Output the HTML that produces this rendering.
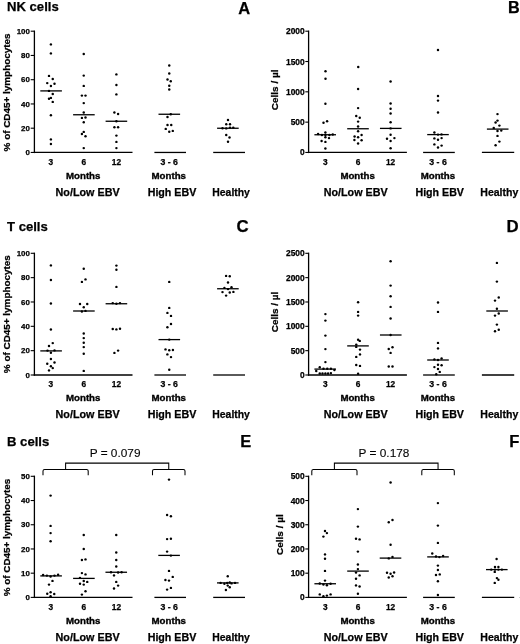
<!DOCTYPE html>
<html lang="en">
<head>
<meta charset="utf-8">
<title>Lymphocyte subsets</title>
<style>
html,body{margin:0;padding:0;background:#fff;}
body{width:520px;height:644px;overflow:hidden;font-family:"Liberation Sans", sans-serif;}
svg{display:block;filter:blur(0.3px);}
svg text{font-family:"Liberation Sans", sans-serif;fill:#000;stroke:#000;stroke-width:0.25px;}
svg text.reg{stroke-width:0.1px;}
svg text.m{stroke-width:0.35px;}
svg circle{fill:#000;}
</style>
</head>
<body>
<svg width="520" height="644" viewBox="0 0 520 644">
<rect x="0" y="0" width="520" height="644" fill="#fff"/>
<line x1="34.40" y1="30.55" x2="34.40" y2="153.10" stroke="#000" stroke-width="1.3" stroke-linecap="butt"/>
<line x1="33.75" y1="152.45" x2="132.50" y2="152.45" stroke="#000" stroke-width="1.3" stroke-linecap="butt"/>
<line x1="30.70" y1="152.45" x2="34.40" y2="152.45" stroke="#000" stroke-width="1.1" stroke-linecap="butt"/>
<text x="29.80" y="155.00" font-size="7.9" font-weight="bold" text-anchor="end">0</text>
<line x1="30.70" y1="128.20" x2="34.40" y2="128.20" stroke="#000" stroke-width="1.1" stroke-linecap="butt"/>
<text x="29.80" y="130.75" font-size="7.9" font-weight="bold" text-anchor="end">20</text>
<line x1="30.70" y1="103.95" x2="34.40" y2="103.95" stroke="#000" stroke-width="1.1" stroke-linecap="butt"/>
<text x="29.80" y="106.50" font-size="7.9" font-weight="bold" text-anchor="end">40</text>
<line x1="30.70" y1="79.70" x2="34.40" y2="79.70" stroke="#000" stroke-width="1.1" stroke-linecap="butt"/>
<text x="29.80" y="82.25" font-size="7.9" font-weight="bold" text-anchor="end">60</text>
<line x1="30.70" y1="55.45" x2="34.40" y2="55.45" stroke="#000" stroke-width="1.1" stroke-linecap="butt"/>
<text x="29.80" y="58.00" font-size="7.9" font-weight="bold" text-anchor="end">80</text>
<line x1="30.70" y1="31.20" x2="34.40" y2="31.20" stroke="#000" stroke-width="1.1" stroke-linecap="butt"/>
<text x="29.80" y="33.75" font-size="7.9" font-weight="bold" text-anchor="end">100</text>
<line x1="154.40" y1="152.45" x2="186.00" y2="152.45" stroke="#000" stroke-width="1.3" stroke-linecap="butt"/>
<line x1="213.20" y1="152.45" x2="245.00" y2="152.45" stroke="#000" stroke-width="1.3" stroke-linecap="butt"/>
<text x="50.80" y="164.80" font-size="8.3" font-weight="bold" text-anchor="middle">3</text>
<text x="83.70" y="164.80" font-size="8.3" font-weight="bold" text-anchor="middle">6</text>
<text x="116.40" y="164.80" font-size="8.3" font-weight="bold" text-anchor="middle">12</text>
<text x="160.45" y="164.80" font-size="8.3" font-weight="bold" text-anchor="start" textLength="17.5" lengthAdjust="spacingAndGlyphs">3 - 6</text>
<text x="66.00" y="178.75" font-size="9.5" font-weight="bold" text-anchor="start" textLength="34.4" lengthAdjust="spacingAndGlyphs" class="m">Months</text>
<text x="151.55" y="178.75" font-size="9.5" font-weight="bold" text-anchor="start" textLength="34.4" lengthAdjust="spacingAndGlyphs" class="m">Months</text>
<text x="55.60" y="195.90" font-size="10.7" font-weight="bold" text-anchor="start" textLength="64.0" lengthAdjust="spacingAndGlyphs">No/Low EBV</text>
<text x="147.70" y="195.90" font-size="10.7" font-weight="bold" text-anchor="start" textLength="48.6" lengthAdjust="spacingAndGlyphs">High EBV</text>
<text x="212.30" y="195.90" font-size="10.7" font-weight="bold" text-anchor="start" textLength="37.6" lengthAdjust="spacingAndGlyphs">Healthy</text>
<text transform="translate(9.80,151.42) rotate(-90)" font-size="9.8" font-weight="bold" textLength="118.0" lengthAdjust="spacingAndGlyphs">% of CD45+ lymphocytes</text>
<circle cx="50.90" cy="44.40" r="1.22"/>
<circle cx="50.90" cy="53.40" r="1.22"/>
<circle cx="49.00" cy="75.90" r="1.22"/>
<circle cx="52.75" cy="79.00" r="1.22"/>
<circle cx="47.25" cy="83.10" r="1.22"/>
<circle cx="54.50" cy="83.75" r="1.22"/>
<circle cx="50.90" cy="86.00" r="1.22"/>
<circle cx="49.00" cy="90.90" r="1.22"/>
<circle cx="52.75" cy="94.00" r="1.22"/>
<circle cx="49.00" cy="98.75" r="1.22"/>
<circle cx="50.90" cy="97.90" r="1.22"/>
<circle cx="52.75" cy="101.90" r="1.22"/>
<circle cx="50.90" cy="115.25" r="1.22"/>
<circle cx="50.90" cy="139.40" r="1.22"/>
<circle cx="50.90" cy="144.00" r="1.22"/>
<line x1="40.30" y1="90.90" x2="61.90" y2="90.90" stroke="#000" stroke-width="1.3" stroke-linecap="butt"/>
<circle cx="83.75" cy="54.00" r="1.22"/>
<circle cx="83.75" cy="75.60" r="1.22"/>
<circle cx="83.75" cy="85.90" r="1.22"/>
<circle cx="81.90" cy="95.60" r="1.22"/>
<circle cx="85.50" cy="95.60" r="1.22"/>
<circle cx="83.75" cy="103.10" r="1.22"/>
<circle cx="83.75" cy="112.50" r="1.22"/>
<circle cx="81.90" cy="117.90" r="1.22"/>
<circle cx="85.50" cy="117.50" r="1.22"/>
<circle cx="83.75" cy="122.25" r="1.22"/>
<circle cx="83.75" cy="131.90" r="1.22"/>
<circle cx="81.90" cy="134.00" r="1.22"/>
<circle cx="85.50" cy="136.25" r="1.22"/>
<circle cx="83.75" cy="148.10" r="1.22"/>
<line x1="73.10" y1="114.75" x2="94.70" y2="114.75" stroke="#000" stroke-width="1.3" stroke-linecap="butt"/>
<circle cx="116.40" cy="74.40" r="1.22"/>
<circle cx="116.40" cy="85.00" r="1.22"/>
<circle cx="116.40" cy="94.40" r="1.22"/>
<circle cx="114.40" cy="112.50" r="1.22"/>
<circle cx="118.10" cy="114.00" r="1.22"/>
<circle cx="116.40" cy="121.25" r="1.22"/>
<circle cx="114.40" cy="127.25" r="1.22"/>
<circle cx="118.10" cy="127.25" r="1.22"/>
<circle cx="116.40" cy="135.60" r="1.22"/>
<circle cx="116.40" cy="141.90" r="1.22"/>
<circle cx="116.40" cy="148.10" r="1.22"/>
<line x1="105.60" y1="121.25" x2="127.20" y2="121.25" stroke="#000" stroke-width="1.3" stroke-linecap="butt"/>
<circle cx="169.25" cy="65.50" r="1.22"/>
<circle cx="169.25" cy="73.50" r="1.22"/>
<circle cx="167.50" cy="79.50" r="1.22"/>
<circle cx="170.75" cy="81.25" r="1.22"/>
<circle cx="169.25" cy="85.75" r="1.22"/>
<circle cx="169.25" cy="89.50" r="1.22"/>
<circle cx="170.75" cy="114.25" r="1.22"/>
<circle cx="167.50" cy="117.00" r="1.22"/>
<circle cx="167.50" cy="125.00" r="1.22"/>
<circle cx="171.25" cy="125.00" r="1.22"/>
<circle cx="165.75" cy="128.90" r="1.22"/>
<circle cx="169.25" cy="131.80" r="1.22"/>
<circle cx="172.80" cy="130.90" r="1.22"/>
<line x1="158.50" y1="114.25" x2="180.10" y2="114.25" stroke="#000" stroke-width="1.3" stroke-linecap="butt"/>
<circle cx="228.00" cy="120.00" r="1.22"/>
<circle cx="226.25" cy="124.25" r="1.22"/>
<circle cx="230.00" cy="124.25" r="1.22"/>
<circle cx="222.50" cy="128.25" r="1.22"/>
<circle cx="226.25" cy="128.40" r="1.22"/>
<circle cx="230.00" cy="127.60" r="1.22"/>
<circle cx="233.25" cy="127.60" r="1.22"/>
<circle cx="226.25" cy="135.00" r="1.22"/>
<circle cx="229.50" cy="137.50" r="1.22"/>
<circle cx="228.00" cy="141.75" r="1.22"/>
<line x1="217.10" y1="128.25" x2="238.70" y2="128.25" stroke="#000" stroke-width="1.3" stroke-linecap="butt"/>
<line x1="308.60" y1="30.55" x2="308.60" y2="153.10" stroke="#000" stroke-width="1.3" stroke-linecap="butt"/>
<line x1="307.95" y1="152.45" x2="406.90" y2="152.45" stroke="#000" stroke-width="1.3" stroke-linecap="butt"/>
<line x1="305.30" y1="152.45" x2="308.60" y2="152.45" stroke="#000" stroke-width="1.1" stroke-linecap="butt"/>
<text x="304.70" y="155.45" font-size="8.4" font-weight="bold" text-anchor="end">0</text>
<line x1="305.30" y1="122.14" x2="308.60" y2="122.14" stroke="#000" stroke-width="1.1" stroke-linecap="butt"/>
<text x="304.70" y="125.14" font-size="8.4" font-weight="bold" text-anchor="end">500</text>
<line x1="305.30" y1="91.82" x2="308.60" y2="91.82" stroke="#000" stroke-width="1.1" stroke-linecap="butt"/>
<text x="304.70" y="94.82" font-size="8.4" font-weight="bold" text-anchor="end">1000</text>
<line x1="305.30" y1="61.51" x2="308.60" y2="61.51" stroke="#000" stroke-width="1.1" stroke-linecap="butt"/>
<text x="304.70" y="64.51" font-size="8.4" font-weight="bold" text-anchor="end">1500</text>
<line x1="305.30" y1="31.20" x2="308.60" y2="31.20" stroke="#000" stroke-width="1.1" stroke-linecap="butt"/>
<text x="304.70" y="34.20" font-size="8.4" font-weight="bold" text-anchor="end">2000</text>
<line x1="423.10" y1="152.45" x2="454.80" y2="152.45" stroke="#000" stroke-width="1.3" stroke-linecap="butt"/>
<line x1="481.90" y1="152.45" x2="514.20" y2="152.45" stroke="#000" stroke-width="1.3" stroke-linecap="butt"/>
<text x="325.40" y="164.80" font-size="8.3" font-weight="bold" text-anchor="middle">3</text>
<text x="358.10" y="164.80" font-size="8.3" font-weight="bold" text-anchor="middle">6</text>
<text x="390.60" y="164.80" font-size="8.3" font-weight="bold" text-anchor="middle">12</text>
<text x="429.25" y="164.80" font-size="8.3" font-weight="bold" text-anchor="start" textLength="17.5" lengthAdjust="spacingAndGlyphs">3 - 6</text>
<text x="340.40" y="178.75" font-size="9.5" font-weight="bold" text-anchor="start" textLength="34.4" lengthAdjust="spacingAndGlyphs" class="m">Months</text>
<text x="420.70" y="178.75" font-size="9.5" font-weight="bold" text-anchor="start" textLength="34.4" lengthAdjust="spacingAndGlyphs" class="m">Months</text>
<text x="323.75" y="195.90" font-size="10.7" font-weight="bold" text-anchor="start" textLength="63.8" lengthAdjust="spacingAndGlyphs">No/Low EBV</text>
<text x="415.50" y="195.90" font-size="10.7" font-weight="bold" text-anchor="start" textLength="48.4" lengthAdjust="spacingAndGlyphs">High EBV</text>
<text x="480.30" y="195.90" font-size="10.7" font-weight="bold" text-anchor="start" textLength="38.0" lengthAdjust="spacingAndGlyphs">Healthy</text>
<text transform="translate(278.30,110.17) rotate(-90)" font-size="9.5" font-weight="bold" textLength="40.6" lengthAdjust="spacingAndGlyphs">Cells / µl</text>
<circle cx="325.50" cy="71.25" r="1.22"/>
<circle cx="325.50" cy="78.75" r="1.22"/>
<circle cx="325.40" cy="103.75" r="1.22"/>
<circle cx="323.50" cy="122.75" r="1.22"/>
<circle cx="327.10" cy="121.25" r="1.22"/>
<circle cx="325.40" cy="132.50" r="1.22"/>
<circle cx="318.10" cy="134.00" r="1.22"/>
<circle cx="321.90" cy="135.00" r="1.22"/>
<circle cx="325.40" cy="135.00" r="1.22"/>
<circle cx="329.40" cy="135.00" r="1.22"/>
<circle cx="332.75" cy="134.50" r="1.22"/>
<circle cx="325.40" cy="137.25" r="1.22"/>
<circle cx="329.00" cy="138.10" r="1.22"/>
<circle cx="321.60" cy="141.00" r="1.22"/>
<circle cx="325.40" cy="141.90" r="1.22"/>
<circle cx="325.40" cy="148.50" r="1.22"/>
<line x1="314.40" y1="134.75" x2="336.00" y2="134.75" stroke="#000" stroke-width="1.3" stroke-linecap="butt"/>
<circle cx="358.25" cy="67.00" r="1.22"/>
<circle cx="358.10" cy="89.00" r="1.22"/>
<circle cx="358.10" cy="108.10" r="1.22"/>
<circle cx="356.25" cy="116.00" r="1.22"/>
<circle cx="359.75" cy="117.75" r="1.22"/>
<circle cx="358.10" cy="121.60" r="1.22"/>
<circle cx="358.10" cy="126.50" r="1.22"/>
<circle cx="358.10" cy="131.25" r="1.22"/>
<circle cx="354.60" cy="136.50" r="1.22"/>
<circle cx="361.60" cy="135.00" r="1.22"/>
<circle cx="358.10" cy="137.25" r="1.22"/>
<circle cx="354.40" cy="140.00" r="1.22"/>
<circle cx="361.60" cy="140.25" r="1.22"/>
<circle cx="358.10" cy="143.50" r="1.22"/>
<line x1="347.20" y1="128.75" x2="368.80" y2="128.75" stroke="#000" stroke-width="1.3" stroke-linecap="butt"/>
<circle cx="390.60" cy="81.50" r="1.22"/>
<circle cx="390.60" cy="103.50" r="1.22"/>
<circle cx="390.60" cy="108.75" r="1.22"/>
<circle cx="390.60" cy="113.50" r="1.22"/>
<circle cx="390.60" cy="122.25" r="1.22"/>
<circle cx="390.60" cy="128.40" r="1.22"/>
<circle cx="390.60" cy="134.75" r="1.22"/>
<circle cx="387.00" cy="138.75" r="1.22"/>
<circle cx="394.40" cy="138.10" r="1.22"/>
<circle cx="390.60" cy="141.00" r="1.22"/>
<circle cx="390.60" cy="148.25" r="1.22"/>
<line x1="379.95" y1="128.40" x2="401.55" y2="128.40" stroke="#000" stroke-width="1.3" stroke-linecap="butt"/>
<circle cx="438.00" cy="50.00" r="1.22"/>
<circle cx="438.00" cy="96.00" r="1.22"/>
<circle cx="438.00" cy="100.60" r="1.22"/>
<circle cx="438.00" cy="112.50" r="1.22"/>
<circle cx="434.40" cy="132.50" r="1.22"/>
<circle cx="438.00" cy="134.60" r="1.22"/>
<circle cx="441.50" cy="134.40" r="1.22"/>
<circle cx="434.40" cy="138.40" r="1.22"/>
<circle cx="438.00" cy="139.75" r="1.22"/>
<circle cx="441.60" cy="138.10" r="1.22"/>
<circle cx="434.40" cy="144.40" r="1.22"/>
<circle cx="441.60" cy="145.60" r="1.22"/>
<circle cx="438.00" cy="147.50" r="1.22"/>
<line x1="427.20" y1="134.60" x2="448.80" y2="134.60" stroke="#000" stroke-width="1.3" stroke-linecap="butt"/>
<circle cx="497.50" cy="114.10" r="1.22"/>
<circle cx="497.50" cy="120.60" r="1.22"/>
<circle cx="495.60" cy="122.50" r="1.22"/>
<circle cx="499.40" cy="125.60" r="1.22"/>
<circle cx="493.75" cy="127.90" r="1.22"/>
<circle cx="497.50" cy="131.00" r="1.22"/>
<circle cx="501.25" cy="130.60" r="1.22"/>
<circle cx="497.50" cy="135.90" r="1.22"/>
<circle cx="499.40" cy="141.60" r="1.22"/>
<circle cx="495.60" cy="145.25" r="1.22"/>
<line x1="486.90" y1="129.10" x2="508.50" y2="129.10" stroke="#000" stroke-width="1.3" stroke-linecap="butt"/>
<line x1="34.40" y1="252.65" x2="34.40" y2="375.65" stroke="#000" stroke-width="1.3" stroke-linecap="butt"/>
<line x1="33.75" y1="375.00" x2="132.50" y2="375.00" stroke="#000" stroke-width="1.3" stroke-linecap="butt"/>
<line x1="30.70" y1="375.00" x2="34.40" y2="375.00" stroke="#000" stroke-width="1.1" stroke-linecap="butt"/>
<text x="29.80" y="377.55" font-size="7.9" font-weight="bold" text-anchor="end">0</text>
<line x1="30.70" y1="350.66" x2="34.40" y2="350.66" stroke="#000" stroke-width="1.1" stroke-linecap="butt"/>
<text x="29.80" y="353.21" font-size="7.9" font-weight="bold" text-anchor="end">20</text>
<line x1="30.70" y1="326.32" x2="34.40" y2="326.32" stroke="#000" stroke-width="1.1" stroke-linecap="butt"/>
<text x="29.80" y="328.87" font-size="7.9" font-weight="bold" text-anchor="end">40</text>
<line x1="30.70" y1="301.98" x2="34.40" y2="301.98" stroke="#000" stroke-width="1.1" stroke-linecap="butt"/>
<text x="29.80" y="304.53" font-size="7.9" font-weight="bold" text-anchor="end">60</text>
<line x1="30.70" y1="277.64" x2="34.40" y2="277.64" stroke="#000" stroke-width="1.1" stroke-linecap="butt"/>
<text x="29.80" y="280.19" font-size="7.9" font-weight="bold" text-anchor="end">80</text>
<line x1="30.70" y1="253.30" x2="34.40" y2="253.30" stroke="#000" stroke-width="1.1" stroke-linecap="butt"/>
<text x="29.80" y="255.85" font-size="7.9" font-weight="bold" text-anchor="end">100</text>
<line x1="154.40" y1="375.00" x2="186.00" y2="375.00" stroke="#000" stroke-width="1.3" stroke-linecap="butt"/>
<line x1="213.20" y1="375.00" x2="245.00" y2="375.00" stroke="#000" stroke-width="1.3" stroke-linecap="butt"/>
<text x="50.80" y="387.35" font-size="8.3" font-weight="bold" text-anchor="middle">3</text>
<text x="83.70" y="387.35" font-size="8.3" font-weight="bold" text-anchor="middle">6</text>
<text x="116.40" y="387.35" font-size="8.3" font-weight="bold" text-anchor="middle">12</text>
<text x="160.45" y="387.35" font-size="8.3" font-weight="bold" text-anchor="start" textLength="17.5" lengthAdjust="spacingAndGlyphs">3 - 6</text>
<text x="66.00" y="401.10" font-size="9.5" font-weight="bold" text-anchor="start" textLength="34.4" lengthAdjust="spacingAndGlyphs" class="m">Months</text>
<text x="151.55" y="401.10" font-size="9.5" font-weight="bold" text-anchor="start" textLength="34.4" lengthAdjust="spacingAndGlyphs" class="m">Months</text>
<text x="55.60" y="417.65" font-size="10.7" font-weight="bold" text-anchor="start" textLength="64.0" lengthAdjust="spacingAndGlyphs">No/Low EBV</text>
<text x="147.70" y="417.65" font-size="10.7" font-weight="bold" text-anchor="start" textLength="48.6" lengthAdjust="spacingAndGlyphs">High EBV</text>
<text x="212.30" y="417.65" font-size="10.7" font-weight="bold" text-anchor="start" textLength="37.6" lengthAdjust="spacingAndGlyphs">Healthy</text>
<text transform="translate(9.80,373.15) rotate(-90)" font-size="9.8" font-weight="bold" textLength="118.0" lengthAdjust="spacingAndGlyphs">% of CD45+ lymphocytes</text>
<circle cx="50.90" cy="265.40" r="1.22"/>
<circle cx="50.90" cy="280.00" r="1.22"/>
<circle cx="50.90" cy="303.50" r="1.22"/>
<circle cx="50.90" cy="329.50" r="1.22"/>
<circle cx="52.75" cy="343.10" r="1.22"/>
<circle cx="49.00" cy="346.00" r="1.22"/>
<circle cx="47.50" cy="350.60" r="1.22"/>
<circle cx="54.50" cy="350.40" r="1.22"/>
<circle cx="50.90" cy="352.75" r="1.22"/>
<circle cx="50.90" cy="359.00" r="1.22"/>
<circle cx="47.25" cy="363.75" r="1.22"/>
<circle cx="54.50" cy="362.50" r="1.22"/>
<circle cx="50.90" cy="366.25" r="1.22"/>
<circle cx="52.75" cy="368.10" r="1.22"/>
<circle cx="49.00" cy="370.40" r="1.22"/>
<line x1="40.30" y1="350.90" x2="61.90" y2="350.90" stroke="#000" stroke-width="1.3" stroke-linecap="butt"/>
<circle cx="83.75" cy="268.75" r="1.22"/>
<circle cx="85.50" cy="279.40" r="1.22"/>
<circle cx="81.90" cy="281.90" r="1.22"/>
<circle cx="80.00" cy="304.00" r="1.22"/>
<circle cx="87.25" cy="304.00" r="1.22"/>
<circle cx="83.75" cy="307.25" r="1.22"/>
<circle cx="81.90" cy="311.50" r="1.22"/>
<circle cx="85.50" cy="310.90" r="1.22"/>
<circle cx="83.75" cy="333.50" r="1.22"/>
<circle cx="83.75" cy="338.10" r="1.22"/>
<circle cx="83.75" cy="342.75" r="1.22"/>
<circle cx="83.75" cy="347.10" r="1.22"/>
<circle cx="83.75" cy="353.75" r="1.22"/>
<circle cx="83.75" cy="370.90" r="1.22"/>
<line x1="73.10" y1="311.00" x2="94.70" y2="311.00" stroke="#000" stroke-width="1.3" stroke-linecap="butt"/>
<circle cx="116.40" cy="265.60" r="1.22"/>
<circle cx="116.40" cy="269.75" r="1.22"/>
<circle cx="116.40" cy="286.90" r="1.22"/>
<circle cx="112.75" cy="303.10" r="1.22"/>
<circle cx="116.40" cy="303.75" r="1.22"/>
<circle cx="120.00" cy="303.10" r="1.22"/>
<circle cx="112.75" cy="329.00" r="1.22"/>
<circle cx="116.40" cy="329.40" r="1.22"/>
<circle cx="120.00" cy="328.75" r="1.22"/>
<circle cx="114.40" cy="352.90" r="1.22"/>
<circle cx="118.10" cy="350.60" r="1.22"/>
<line x1="105.60" y1="303.75" x2="127.20" y2="303.75" stroke="#000" stroke-width="1.3" stroke-linecap="butt"/>
<circle cx="169.25" cy="281.90" r="1.22"/>
<circle cx="169.25" cy="307.90" r="1.22"/>
<circle cx="167.40" cy="312.90" r="1.22"/>
<circle cx="171.00" cy="315.90" r="1.22"/>
<circle cx="171.00" cy="324.00" r="1.22"/>
<circle cx="167.40" cy="327.25" r="1.22"/>
<circle cx="169.25" cy="339.60" r="1.22"/>
<circle cx="165.50" cy="349.40" r="1.22"/>
<circle cx="169.25" cy="350.25" r="1.22"/>
<circle cx="172.90" cy="350.00" r="1.22"/>
<circle cx="167.40" cy="354.40" r="1.22"/>
<circle cx="171.00" cy="357.10" r="1.22"/>
<circle cx="169.25" cy="369.75" r="1.22"/>
<line x1="158.50" y1="339.60" x2="180.10" y2="339.60" stroke="#000" stroke-width="1.3" stroke-linecap="butt"/>
<circle cx="226.10" cy="275.90" r="1.22"/>
<circle cx="229.75" cy="276.25" r="1.22"/>
<circle cx="228.00" cy="282.50" r="1.22"/>
<circle cx="224.40" cy="287.90" r="1.22"/>
<circle cx="228.00" cy="289.10" r="1.22"/>
<circle cx="231.50" cy="287.25" r="1.22"/>
<circle cx="222.50" cy="292.10" r="1.22"/>
<circle cx="229.75" cy="292.50" r="1.22"/>
<circle cx="233.40" cy="291.90" r="1.22"/>
<circle cx="226.10" cy="295.60" r="1.22"/>
<line x1="217.10" y1="288.75" x2="238.70" y2="288.75" stroke="#000" stroke-width="1.3" stroke-linecap="butt"/>
<line x1="308.60" y1="252.65" x2="308.60" y2="375.65" stroke="#000" stroke-width="1.3" stroke-linecap="butt"/>
<line x1="307.95" y1="375.00" x2="406.90" y2="375.00" stroke="#000" stroke-width="1.3" stroke-linecap="butt"/>
<line x1="305.30" y1="375.00" x2="308.60" y2="375.00" stroke="#000" stroke-width="1.1" stroke-linecap="butt"/>
<text x="304.70" y="378.00" font-size="8.4" font-weight="bold" text-anchor="end">0</text>
<line x1="305.30" y1="350.66" x2="308.60" y2="350.66" stroke="#000" stroke-width="1.1" stroke-linecap="butt"/>
<text x="304.70" y="353.66" font-size="8.4" font-weight="bold" text-anchor="end">500</text>
<line x1="305.30" y1="326.32" x2="308.60" y2="326.32" stroke="#000" stroke-width="1.1" stroke-linecap="butt"/>
<text x="304.70" y="329.32" font-size="8.4" font-weight="bold" text-anchor="end">1000</text>
<line x1="305.30" y1="301.98" x2="308.60" y2="301.98" stroke="#000" stroke-width="1.1" stroke-linecap="butt"/>
<text x="304.70" y="304.98" font-size="8.4" font-weight="bold" text-anchor="end">1500</text>
<line x1="305.30" y1="277.64" x2="308.60" y2="277.64" stroke="#000" stroke-width="1.1" stroke-linecap="butt"/>
<text x="304.70" y="280.64" font-size="8.4" font-weight="bold" text-anchor="end">2000</text>
<line x1="305.30" y1="253.30" x2="308.60" y2="253.30" stroke="#000" stroke-width="1.1" stroke-linecap="butt"/>
<text x="304.70" y="256.30" font-size="8.4" font-weight="bold" text-anchor="end">2500</text>
<line x1="423.10" y1="375.00" x2="454.80" y2="375.00" stroke="#000" stroke-width="1.3" stroke-linecap="butt"/>
<line x1="481.90" y1="375.00" x2="514.20" y2="375.00" stroke="#000" stroke-width="1.3" stroke-linecap="butt"/>
<text x="325.40" y="387.35" font-size="8.3" font-weight="bold" text-anchor="middle">3</text>
<text x="358.10" y="387.35" font-size="8.3" font-weight="bold" text-anchor="middle">6</text>
<text x="390.60" y="387.35" font-size="8.3" font-weight="bold" text-anchor="middle">12</text>
<text x="429.25" y="387.35" font-size="8.3" font-weight="bold" text-anchor="start" textLength="17.5" lengthAdjust="spacingAndGlyphs">3 - 6</text>
<text x="340.40" y="401.10" font-size="9.5" font-weight="bold" text-anchor="start" textLength="34.4" lengthAdjust="spacingAndGlyphs" class="m">Months</text>
<text x="420.70" y="401.10" font-size="9.5" font-weight="bold" text-anchor="start" textLength="34.4" lengthAdjust="spacingAndGlyphs" class="m">Months</text>
<text x="323.75" y="417.65" font-size="10.7" font-weight="bold" text-anchor="start" textLength="63.8" lengthAdjust="spacingAndGlyphs">No/Low EBV</text>
<text x="415.50" y="417.65" font-size="10.7" font-weight="bold" text-anchor="start" textLength="48.4" lengthAdjust="spacingAndGlyphs">High EBV</text>
<text x="480.30" y="417.65" font-size="10.7" font-weight="bold" text-anchor="start" textLength="38.0" lengthAdjust="spacingAndGlyphs">Healthy</text>
<text transform="translate(278.30,332.30) rotate(-90)" font-size="9.5" font-weight="bold" textLength="40.6" lengthAdjust="spacingAndGlyphs">Cells / µl</text>
<circle cx="325.40" cy="314.10" r="1.22"/>
<circle cx="325.40" cy="320.60" r="1.22"/>
<circle cx="325.40" cy="335.60" r="1.22"/>
<circle cx="325.40" cy="349.10" r="1.22"/>
<circle cx="325.40" cy="362.10" r="1.22"/>
<circle cx="319.75" cy="367.25" r="1.22"/>
<circle cx="323.50" cy="368.75" r="1.22"/>
<circle cx="327.25" cy="368.75" r="1.22"/>
<circle cx="330.90" cy="368.75" r="1.22"/>
<circle cx="334.40" cy="370.00" r="1.22"/>
<circle cx="316.25" cy="371.00" r="1.22"/>
<circle cx="319.75" cy="373.50" r="1.22"/>
<circle cx="322.50" cy="373.50" r="1.22"/>
<circle cx="325.40" cy="373.50" r="1.22"/>
<circle cx="328.10" cy="373.50" r="1.22"/>
<circle cx="330.90" cy="373.10" r="1.22"/>
<line x1="314.40" y1="369.10" x2="336.00" y2="369.10" stroke="#000" stroke-width="1.3" stroke-linecap="butt"/>
<circle cx="358.10" cy="302.25" r="1.22"/>
<circle cx="358.10" cy="311.90" r="1.22"/>
<circle cx="358.10" cy="315.60" r="1.22"/>
<circle cx="358.10" cy="339.75" r="1.22"/>
<circle cx="359.75" cy="340.90" r="1.22"/>
<circle cx="356.25" cy="344.60" r="1.22"/>
<circle cx="356.25" cy="346.90" r="1.22"/>
<circle cx="360.00" cy="349.60" r="1.22"/>
<circle cx="360.00" cy="354.40" r="1.22"/>
<circle cx="356.25" cy="356.90" r="1.22"/>
<circle cx="356.25" cy="365.00" r="1.22"/>
<circle cx="360.00" cy="365.90" r="1.22"/>
<circle cx="358.10" cy="373.75" r="1.22"/>
<line x1="347.20" y1="345.90" x2="368.80" y2="345.90" stroke="#000" stroke-width="1.3" stroke-linecap="butt"/>
<circle cx="390.60" cy="261.25" r="1.22"/>
<circle cx="390.60" cy="285.60" r="1.22"/>
<circle cx="390.60" cy="296.25" r="1.22"/>
<circle cx="390.60" cy="306.90" r="1.22"/>
<circle cx="390.60" cy="318.50" r="1.22"/>
<circle cx="390.60" cy="335.00" r="1.22"/>
<circle cx="388.75" cy="349.00" r="1.22"/>
<circle cx="392.50" cy="347.25" r="1.22"/>
<circle cx="390.60" cy="352.90" r="1.22"/>
<circle cx="388.75" cy="366.50" r="1.22"/>
<circle cx="392.50" cy="366.50" r="1.22"/>
<line x1="379.95" y1="335.00" x2="401.55" y2="335.00" stroke="#000" stroke-width="1.3" stroke-linecap="butt"/>
<circle cx="438.00" cy="302.50" r="1.22"/>
<circle cx="438.00" cy="311.90" r="1.22"/>
<circle cx="438.00" cy="342.90" r="1.22"/>
<circle cx="438.00" cy="348.40" r="1.22"/>
<circle cx="434.40" cy="359.40" r="1.22"/>
<circle cx="438.00" cy="360.00" r="1.22"/>
<circle cx="441.60" cy="358.50" r="1.22"/>
<circle cx="438.00" cy="364.75" r="1.22"/>
<circle cx="441.60" cy="365.25" r="1.22"/>
<circle cx="434.40" cy="367.10" r="1.22"/>
<circle cx="438.00" cy="369.00" r="1.22"/>
<circle cx="439.75" cy="371.90" r="1.22"/>
<circle cx="436.25" cy="374.20" r="1.22"/>
<line x1="427.20" y1="360.00" x2="448.80" y2="360.00" stroke="#000" stroke-width="1.3" stroke-linecap="butt"/>
<circle cx="496.90" cy="262.90" r="1.22"/>
<circle cx="496.90" cy="281.60" r="1.22"/>
<circle cx="498.75" cy="297.50" r="1.22"/>
<circle cx="495.00" cy="300.60" r="1.22"/>
<circle cx="496.90" cy="308.75" r="1.22"/>
<circle cx="498.75" cy="313.50" r="1.22"/>
<circle cx="495.00" cy="315.60" r="1.22"/>
<circle cx="496.90" cy="324.60" r="1.22"/>
<circle cx="498.75" cy="329.70" r="1.22"/>
<circle cx="495.00" cy="331.25" r="1.22"/>
<line x1="486.30" y1="311.00" x2="507.90" y2="311.00" stroke="#000" stroke-width="1.3" stroke-linecap="butt"/>
<line x1="34.40" y1="475.65" x2="34.40" y2="598.05" stroke="#000" stroke-width="1.3" stroke-linecap="butt"/>
<line x1="33.75" y1="597.40" x2="132.50" y2="597.40" stroke="#000" stroke-width="1.3" stroke-linecap="butt"/>
<line x1="30.70" y1="597.40" x2="34.40" y2="597.40" stroke="#000" stroke-width="1.1" stroke-linecap="butt"/>
<text x="29.80" y="599.95" font-size="7.9" font-weight="bold" text-anchor="end">0</text>
<line x1="30.70" y1="573.18" x2="34.40" y2="573.18" stroke="#000" stroke-width="1.1" stroke-linecap="butt"/>
<text x="29.80" y="575.73" font-size="7.9" font-weight="bold" text-anchor="end">10</text>
<line x1="30.70" y1="548.96" x2="34.40" y2="548.96" stroke="#000" stroke-width="1.1" stroke-linecap="butt"/>
<text x="29.80" y="551.51" font-size="7.9" font-weight="bold" text-anchor="end">20</text>
<line x1="30.70" y1="524.74" x2="34.40" y2="524.74" stroke="#000" stroke-width="1.1" stroke-linecap="butt"/>
<text x="29.80" y="527.29" font-size="7.9" font-weight="bold" text-anchor="end">30</text>
<line x1="30.70" y1="500.52" x2="34.40" y2="500.52" stroke="#000" stroke-width="1.1" stroke-linecap="butt"/>
<text x="29.80" y="503.07" font-size="7.9" font-weight="bold" text-anchor="end">40</text>
<line x1="30.70" y1="476.30" x2="34.40" y2="476.30" stroke="#000" stroke-width="1.1" stroke-linecap="butt"/>
<text x="29.80" y="478.85" font-size="7.9" font-weight="bold" text-anchor="end">50</text>
<line x1="154.40" y1="597.40" x2="186.00" y2="597.40" stroke="#000" stroke-width="1.3" stroke-linecap="butt"/>
<line x1="213.20" y1="597.40" x2="245.00" y2="597.40" stroke="#000" stroke-width="1.3" stroke-linecap="butt"/>
<text x="50.80" y="609.75" font-size="8.3" font-weight="bold" text-anchor="middle">3</text>
<text x="83.70" y="609.75" font-size="8.3" font-weight="bold" text-anchor="middle">6</text>
<text x="116.40" y="609.75" font-size="8.3" font-weight="bold" text-anchor="middle">12</text>
<text x="160.45" y="609.75" font-size="8.3" font-weight="bold" text-anchor="start" textLength="17.5" lengthAdjust="spacingAndGlyphs">3 - 6</text>
<text x="66.00" y="624.00" font-size="9.5" font-weight="bold" text-anchor="start" textLength="34.4" lengthAdjust="spacingAndGlyphs" class="m">Months</text>
<text x="151.55" y="624.00" font-size="9.5" font-weight="bold" text-anchor="start" textLength="34.4" lengthAdjust="spacingAndGlyphs" class="m">Months</text>
<text x="55.60" y="640.55" font-size="10.7" font-weight="bold" text-anchor="start" textLength="64.0" lengthAdjust="spacingAndGlyphs">No/Low EBV</text>
<text x="147.70" y="640.55" font-size="10.7" font-weight="bold" text-anchor="start" textLength="48.6" lengthAdjust="spacingAndGlyphs">High EBV</text>
<text x="212.30" y="640.55" font-size="10.7" font-weight="bold" text-anchor="start" textLength="37.6" lengthAdjust="spacingAndGlyphs">Healthy</text>
<text transform="translate(9.80,596.20) rotate(-90)" font-size="9.8" font-weight="bold" textLength="117.5" lengthAdjust="spacingAndGlyphs">% of CD45+ lymphocytes</text>
<circle cx="50.60" cy="495.60" r="1.22"/>
<circle cx="50.60" cy="525.90" r="1.22"/>
<circle cx="50.60" cy="533.10" r="1.22"/>
<circle cx="50.60" cy="541.20" r="1.22"/>
<circle cx="43.10" cy="575.00" r="1.22"/>
<circle cx="46.90" cy="575.60" r="1.22"/>
<circle cx="50.60" cy="576.50" r="1.22"/>
<circle cx="54.50" cy="575.60" r="1.22"/>
<circle cx="58.10" cy="574.75" r="1.22"/>
<circle cx="52.50" cy="580.90" r="1.22"/>
<circle cx="49.00" cy="584.60" r="1.22"/>
<circle cx="50.60" cy="592.25" r="1.22"/>
<circle cx="47.25" cy="593.75" r="1.22"/>
<circle cx="54.25" cy="594.00" r="1.22"/>
<circle cx="50.60" cy="596.30" r="1.22"/>
<line x1="40.30" y1="575.90" x2="61.90" y2="575.90" stroke="#000" stroke-width="1.3" stroke-linecap="butt"/>
<circle cx="83.75" cy="535.00" r="1.22"/>
<circle cx="83.75" cy="549.00" r="1.22"/>
<circle cx="81.90" cy="560.00" r="1.22"/>
<circle cx="85.50" cy="559.40" r="1.22"/>
<circle cx="81.90" cy="573.10" r="1.22"/>
<circle cx="85.50" cy="574.40" r="1.22"/>
<circle cx="80.00" cy="577.90" r="1.22"/>
<circle cx="83.75" cy="581.00" r="1.22"/>
<circle cx="87.25" cy="581.90" r="1.22"/>
<circle cx="80.00" cy="583.75" r="1.22"/>
<circle cx="83.75" cy="584.60" r="1.22"/>
<circle cx="85.50" cy="591.25" r="1.22"/>
<circle cx="81.90" cy="594.60" r="1.22"/>
<line x1="73.10" y1="578.40" x2="94.70" y2="578.40" stroke="#000" stroke-width="1.3" stroke-linecap="butt"/>
<circle cx="116.25" cy="535.00" r="1.22"/>
<circle cx="116.25" cy="552.50" r="1.22"/>
<circle cx="116.25" cy="560.00" r="1.22"/>
<circle cx="116.25" cy="566.50" r="1.22"/>
<circle cx="111.00" cy="572.25" r="1.22"/>
<circle cx="118.10" cy="572.50" r="1.22"/>
<circle cx="121.60" cy="572.25" r="1.22"/>
<circle cx="114.00" cy="575.40" r="1.22"/>
<circle cx="116.25" cy="581.90" r="1.22"/>
<circle cx="118.10" cy="585.60" r="1.22"/>
<circle cx="114.00" cy="588.50" r="1.22"/>
<line x1="105.45" y1="572.25" x2="127.05" y2="572.25" stroke="#000" stroke-width="1.3" stroke-linecap="butt"/>
<circle cx="169.00" cy="479.60" r="1.22"/>
<circle cx="167.10" cy="515.00" r="1.22"/>
<circle cx="170.90" cy="516.25" r="1.22"/>
<circle cx="167.10" cy="539.10" r="1.22"/>
<circle cx="170.90" cy="538.75" r="1.22"/>
<circle cx="167.10" cy="551.60" r="1.22"/>
<circle cx="170.90" cy="555.60" r="1.22"/>
<circle cx="169.00" cy="570.90" r="1.22"/>
<circle cx="172.75" cy="576.90" r="1.22"/>
<circle cx="165.40" cy="580.00" r="1.22"/>
<circle cx="169.00" cy="580.60" r="1.22"/>
<circle cx="167.10" cy="589.60" r="1.22"/>
<circle cx="170.90" cy="587.90" r="1.22"/>
<line x1="158.30" y1="555.40" x2="179.90" y2="555.40" stroke="#000" stroke-width="1.3" stroke-linecap="butt"/>
<circle cx="227.75" cy="576.25" r="1.22"/>
<circle cx="220.60" cy="582.90" r="1.22"/>
<circle cx="224.40" cy="583.75" r="1.22"/>
<circle cx="227.20" cy="583.00" r="1.22"/>
<circle cx="229.75" cy="582.50" r="1.22"/>
<circle cx="231.50" cy="583.40" r="1.22"/>
<circle cx="235.00" cy="582.90" r="1.22"/>
<circle cx="227.75" cy="585.60" r="1.22"/>
<circle cx="229.75" cy="587.25" r="1.22"/>
<circle cx="225.90" cy="590.00" r="1.22"/>
<line x1="217.00" y1="582.90" x2="238.60" y2="582.90" stroke="#000" stroke-width="1.3" stroke-linecap="butt"/>
<line x1="308.60" y1="475.65" x2="308.60" y2="598.05" stroke="#000" stroke-width="1.3" stroke-linecap="butt"/>
<line x1="307.95" y1="597.40" x2="406.90" y2="597.40" stroke="#000" stroke-width="1.3" stroke-linecap="butt"/>
<line x1="305.30" y1="597.40" x2="308.60" y2="597.40" stroke="#000" stroke-width="1.1" stroke-linecap="butt"/>
<text x="304.70" y="600.40" font-size="8.4" font-weight="bold" text-anchor="end">0</text>
<line x1="305.30" y1="573.18" x2="308.60" y2="573.18" stroke="#000" stroke-width="1.1" stroke-linecap="butt"/>
<text x="304.70" y="576.18" font-size="8.4" font-weight="bold" text-anchor="end">100</text>
<line x1="305.30" y1="548.96" x2="308.60" y2="548.96" stroke="#000" stroke-width="1.1" stroke-linecap="butt"/>
<text x="304.70" y="551.96" font-size="8.4" font-weight="bold" text-anchor="end">200</text>
<line x1="305.30" y1="524.74" x2="308.60" y2="524.74" stroke="#000" stroke-width="1.1" stroke-linecap="butt"/>
<text x="304.70" y="527.74" font-size="8.4" font-weight="bold" text-anchor="end">300</text>
<line x1="305.30" y1="500.52" x2="308.60" y2="500.52" stroke="#000" stroke-width="1.1" stroke-linecap="butt"/>
<text x="304.70" y="503.52" font-size="8.4" font-weight="bold" text-anchor="end">400</text>
<line x1="305.30" y1="476.30" x2="308.60" y2="476.30" stroke="#000" stroke-width="1.1" stroke-linecap="butt"/>
<text x="304.70" y="479.30" font-size="8.4" font-weight="bold" text-anchor="end">500</text>
<line x1="423.10" y1="597.40" x2="454.80" y2="597.40" stroke="#000" stroke-width="1.3" stroke-linecap="butt"/>
<line x1="481.90" y1="597.40" x2="514.20" y2="597.40" stroke="#000" stroke-width="1.3" stroke-linecap="butt"/>
<text x="325.40" y="609.75" font-size="8.3" font-weight="bold" text-anchor="middle">3</text>
<text x="358.10" y="609.75" font-size="8.3" font-weight="bold" text-anchor="middle">6</text>
<text x="390.60" y="609.75" font-size="8.3" font-weight="bold" text-anchor="middle">12</text>
<text x="429.25" y="609.75" font-size="8.3" font-weight="bold" text-anchor="start" textLength="17.5" lengthAdjust="spacingAndGlyphs">3 - 6</text>
<text x="340.40" y="624.00" font-size="9.5" font-weight="bold" text-anchor="start" textLength="34.4" lengthAdjust="spacingAndGlyphs" class="m">Months</text>
<text x="420.70" y="624.00" font-size="9.5" font-weight="bold" text-anchor="start" textLength="34.4" lengthAdjust="spacingAndGlyphs" class="m">Months</text>
<text x="323.75" y="640.55" font-size="10.7" font-weight="bold" text-anchor="start" textLength="63.8" lengthAdjust="spacingAndGlyphs">No/Low EBV</text>
<text x="415.50" y="640.55" font-size="10.7" font-weight="bold" text-anchor="start" textLength="48.4" lengthAdjust="spacingAndGlyphs">High EBV</text>
<text x="480.30" y="640.55" font-size="10.7" font-weight="bold" text-anchor="start" textLength="38.0" lengthAdjust="spacingAndGlyphs">Healthy</text>
<text transform="translate(283.30,554.90) rotate(-90)" font-size="9.5" font-weight="bold" textLength="40.6" lengthAdjust="spacingAndGlyphs">Cells / µl</text>
<circle cx="325.00" cy="531.00" r="1.22"/>
<circle cx="326.90" cy="533.10" r="1.22"/>
<circle cx="323.40" cy="536.60" r="1.22"/>
<circle cx="325.00" cy="554.40" r="1.22"/>
<circle cx="325.00" cy="558.75" r="1.22"/>
<circle cx="325.00" cy="570.90" r="1.22"/>
<circle cx="325.00" cy="580.60" r="1.22"/>
<circle cx="319.75" cy="583.50" r="1.22"/>
<circle cx="323.40" cy="584.60" r="1.22"/>
<circle cx="326.90" cy="585.25" r="1.22"/>
<circle cx="330.60" cy="583.75" r="1.22"/>
<circle cx="319.75" cy="594.40" r="1.22"/>
<circle cx="330.60" cy="594.40" r="1.22"/>
<circle cx="323.40" cy="596.25" r="1.22"/>
<circle cx="326.90" cy="595.60" r="1.22"/>
<line x1="314.40" y1="583.75" x2="336.00" y2="583.75" stroke="#000" stroke-width="1.3" stroke-linecap="butt"/>
<circle cx="357.90" cy="509.10" r="1.22"/>
<circle cx="357.90" cy="526.60" r="1.22"/>
<circle cx="356.00" cy="538.75" r="1.22"/>
<circle cx="359.60" cy="539.40" r="1.22"/>
<circle cx="357.90" cy="551.60" r="1.22"/>
<circle cx="357.90" cy="564.50" r="1.22"/>
<circle cx="357.90" cy="569.10" r="1.22"/>
<circle cx="356.00" cy="572.60" r="1.22"/>
<circle cx="359.60" cy="575.40" r="1.22"/>
<circle cx="356.00" cy="578.75" r="1.22"/>
<circle cx="356.00" cy="585.40" r="1.22"/>
<circle cx="359.60" cy="586.50" r="1.22"/>
<circle cx="357.90" cy="593.75" r="1.22"/>
<line x1="347.20" y1="571.10" x2="368.80" y2="571.10" stroke="#000" stroke-width="1.3" stroke-linecap="butt"/>
<circle cx="390.60" cy="482.50" r="1.22"/>
<circle cx="392.50" cy="520.00" r="1.22"/>
<circle cx="388.75" cy="522.25" r="1.22"/>
<circle cx="390.60" cy="544.75" r="1.22"/>
<circle cx="388.75" cy="558.40" r="1.22"/>
<circle cx="392.50" cy="556.90" r="1.22"/>
<circle cx="387.00" cy="572.75" r="1.22"/>
<circle cx="390.60" cy="573.75" r="1.22"/>
<circle cx="394.10" cy="572.50" r="1.22"/>
<circle cx="392.50" cy="576.25" r="1.22"/>
<circle cx="388.75" cy="577.50" r="1.22"/>
<line x1="379.70" y1="558.10" x2="401.30" y2="558.10" stroke="#000" stroke-width="1.3" stroke-linecap="butt"/>
<circle cx="437.90" cy="503.10" r="1.22"/>
<circle cx="437.90" cy="525.60" r="1.22"/>
<circle cx="437.90" cy="542.90" r="1.22"/>
<circle cx="432.25" cy="553.50" r="1.22"/>
<circle cx="436.00" cy="556.50" r="1.22"/>
<circle cx="439.40" cy="557.10" r="1.22"/>
<circle cx="443.10" cy="556.00" r="1.22"/>
<circle cx="437.90" cy="565.60" r="1.22"/>
<circle cx="437.90" cy="570.00" r="1.22"/>
<circle cx="436.00" cy="575.00" r="1.22"/>
<circle cx="439.75" cy="574.40" r="1.22"/>
<circle cx="437.90" cy="581.25" r="1.22"/>
<circle cx="437.90" cy="595.00" r="1.22"/>
<line x1="427.20" y1="556.90" x2="448.80" y2="556.90" stroke="#000" stroke-width="1.3" stroke-linecap="butt"/>
<circle cx="496.60" cy="559.00" r="1.22"/>
<circle cx="495.00" cy="566.90" r="1.22"/>
<circle cx="498.40" cy="566.90" r="1.22"/>
<circle cx="491.25" cy="569.60" r="1.22"/>
<circle cx="495.00" cy="569.60" r="1.22"/>
<circle cx="498.40" cy="569.60" r="1.22"/>
<circle cx="501.90" cy="569.60" r="1.22"/>
<circle cx="494.75" cy="571.90" r="1.22"/>
<circle cx="496.90" cy="578.10" r="1.22"/>
<circle cx="498.40" cy="579.75" r="1.22"/>
<circle cx="494.75" cy="582.90" r="1.22"/>
<line x1="486.00" y1="569.60" x2="507.60" y2="569.60" stroke="#000" stroke-width="1.3" stroke-linecap="butt"/>
<text x="7.00" y="10.90" font-size="13" font-weight="bold" text-anchor="start" textLength="51.7" lengthAdjust="spacingAndGlyphs">NK cells</text>
<text x="7.00" y="230.70" font-size="13" font-weight="bold" text-anchor="start" textLength="40.8" lengthAdjust="spacingAndGlyphs">T cells</text>
<text x="7.00" y="445.80" font-size="13" font-weight="bold" text-anchor="start" textLength="42.3" lengthAdjust="spacingAndGlyphs">B cells</text>
<text x="238.20" y="13.60" font-size="16.5" font-weight="bold" text-anchor="start">A</text>
<text x="236.40" y="231.60" font-size="16.8" font-weight="bold" text-anchor="start">C</text>
<text x="240.30" y="447.10" font-size="16.5" font-weight="bold" text-anchor="start">E</text>
<text x="508.10" y="13.40" font-size="16.2" font-weight="bold" text-anchor="start">B</text>
<text x="506.60" y="231.70" font-size="16.8" font-weight="bold" text-anchor="start">D</text>
<text x="509.20" y="447.10" font-size="16.5" font-weight="bold" text-anchor="start">F</text>
<text x="89.70" y="457.10" font-size="11" font-weight="normal" text-anchor="start" textLength="50.8" lengthAdjust="spacingAndGlyphs" class="reg">P = 0.079</text>
<text x="358.60" y="457.10" font-size="11" font-weight="normal" text-anchor="start" textLength="50.8" lengthAdjust="spacingAndGlyphs" class="reg">P = 0.178</text>
<path d="M65.60,469.50 V463.10 H168.75 V469.50 M43.00,475.20 V471.10 Q43.00,469.50 44.60,469.50 H86.60 Q88.20,469.50 88.20,471.10 V475.20 M152.50,475.20 V471.10 Q152.50,469.50 154.10,469.50 H183.40 Q185.00,469.50 185.00,471.10 V475.20" fill="none" stroke="#000" stroke-width="1.05"/>
<path d="M334.40,469.50 V463.10 H438.05 V469.50 M311.80,475.20 V471.10 Q311.80,469.50 313.40,469.50 H355.40 Q357.00,469.50 357.00,471.10 V475.20 M421.80,475.20 V471.10 Q421.80,469.50 423.40,469.50 H452.70 Q454.30,469.50 454.30,471.10 V475.20" fill="none" stroke="#000" stroke-width="1.05"/>
<rect x="519.2" y="597" width="0.8" height="1" fill="#bbb"/>
</svg>
</body>
</html>
